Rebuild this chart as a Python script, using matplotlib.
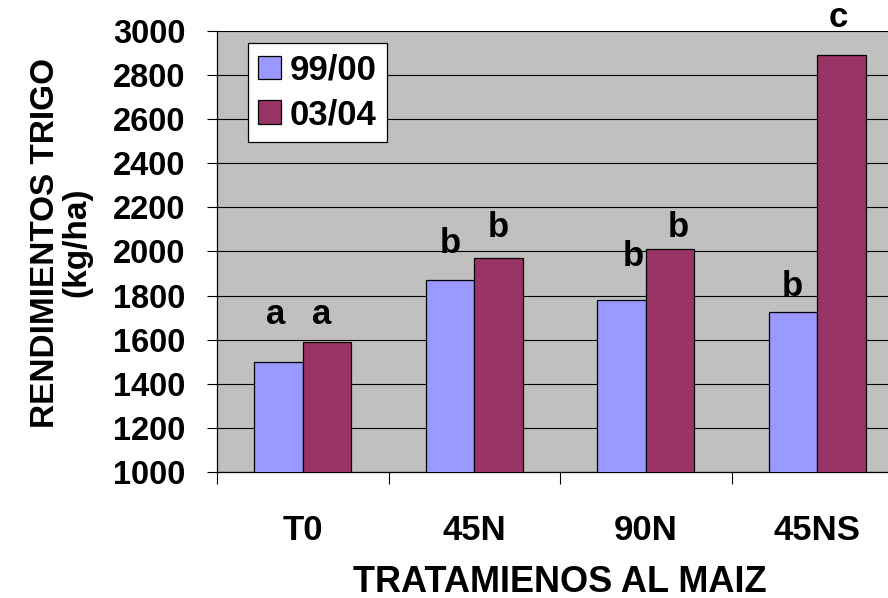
import matplotlib.pyplot as plt
import numpy as np

categories = ['T0', '45N', '90N', '45NS']
series_names = ['99/00', '03/04']
rend_9900 = [1500, 1870, 1780, 1725]
rend_0304 = [1590, 1970, 2010, 2890]
letters_9900 = ['a', 'b', 'b', 'b']
letters_0304 = ['a', 'b', 'b', 'c']

plt.rcParams['font.family'] = ['Liberation Sans', 'DejaVu Sans']
plt.rcParams['font.weight'] = 'bold'

fig = plt.figure(figsize=(8.88, 5.98), dpi=100)
# plot area runs past the right edge of the picture, as in the original
ax = fig.add_axes([0.2444, 0.2107, 0.7725, 0.7375])
ax.set_facecolor('#C0C0C0')

x = np.arange(len(categories)) + 0.5
w = 0.283
ax.bar(x - w / 2, rend_9900, w, bottom=0, color='#9999FF', edgecolor='black',
       linewidth=0.9, label=series_names[0], zorder=3)
ax.bar(x + w / 2, rend_0304, w, bottom=0, color='#993366', edgecolor='black',
       linewidth=0.9, label=series_names[1], zorder=3)

# significance letters, placed by hand like in the source
ly1 = [1673, 1995, 1932, 1800]
ly2 = [1673, 2064, 2064, 3018]
dx1 = [-0.017, 0.0, 0.067, -0.006]
dx2 = [-0.032, 0.0, 0.047, -0.02]
for i in range(len(categories)):
    ax.text(x[i] - w / 2 + dx1[i], ly1[i], letters_9900[i], ha='center',
            va='baseline', fontsize=25, fontweight='bold', clip_on=False)
    ax.text(x[i] + w / 2 + dx2[i], ly2[i], letters_0304[i], ha='center',
            va='baseline', fontsize=25, fontweight='bold', clip_on=False)

ax.set_ylim(1000, 3000)
ax.set_xlim(0, 4)
ax.set_yticks(np.arange(1000, 3001, 200))
ax.yaxis.grid(True, color='black', linewidth=0.8, zorder=0)
ax.set_axisbelow(True)
ax.tick_params(axis='y', direction='out', length=7.5, width=0.8, pad=15,
               labelsize=23.5)

ax.set_xticks(np.arange(0, 4))
ax.set_xticklabels([])
ax.set_xticks(x, minor=True)
ax.set_xticklabels(categories, minor=True)
ax.tick_params(axis='x', which='major', direction='out', length=8.5, width=0.8)
ax.tick_params(axis='x', which='minor', length=0, pad=30, labelsize=25)
for lab in ax.get_yticklabels() + ax.get_xticklabels(minor=True):
    lab.set_fontweight('bold')

for s in ['top', 'right']:
    ax.spines[s].set_visible(False)
ax.spines['left'].set_linewidth(0.9)
ax.spines['bottom'].set_linewidth(0.9)

ax.set_xlabel('TRATAMIENOS AL MAIZ', fontsize=26, fontweight='bold')
ax.xaxis.set_label_coords(0.5, -0.21)
ax.set_ylabel('RENDIMIENTOS TRIGO\n(kg/ha)', fontsize=24, fontweight='bold',
              linespacing=1.0)
ax.yaxis.set_label_coords(-0.182, 0.52)

leg = ax.legend(loc='upper left', bbox_to_anchor=(0.045, 0.972),
                borderaxespad=0, fontsize=25, fancybox=False, framealpha=1,
                edgecolor='black', handlelength=0.66, handleheight=0.66,
                handletextpad=0.25, borderpad=0.3, labelspacing=0.33)
leg.get_frame().set_linewidth(0.9)
for t in leg.get_texts():
    t.set_fontweight('bold')

plt.savefig('out.png', dpi=100)
